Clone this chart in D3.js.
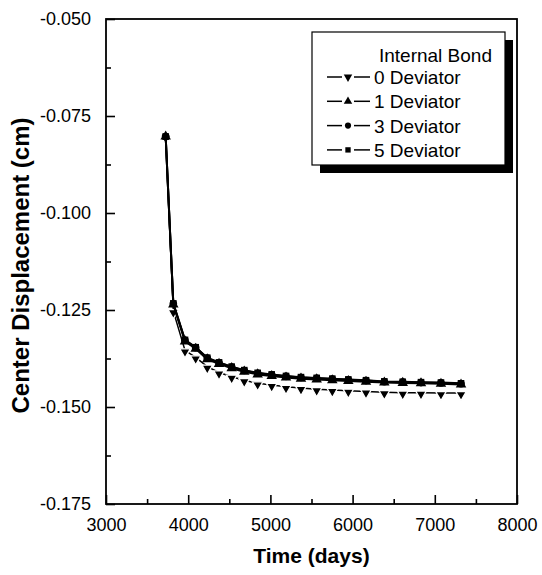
<!DOCTYPE html>
<html>
<head>
<meta charset="utf-8">
<script src="https://cdn.jsdelivr.net/npm/d3@7"></script>
<style>
  body { margin: 0; background: #fff; }
  svg { display: block; font-family: "Liberation Sans", Arial, sans-serif; }
</style>
</head>
<body>
<svg id="chart" width="542" height="575"></svg>
<script>
// time in days, shared by all series
const times = [3726, 3819, 3961, 4091, 4232, 4375, 4529, 4682, 4845, 5016, 5190,
               5372, 5563, 5753, 5948, 6163, 6386, 6610, 6832, 7075, 7319];

const dev0 = [-0.0803, -0.1253, -0.1354, -0.1372, -0.1396, -0.1411, -0.1422, -0.1431, -0.1439, -0.1443, -0.1448,
              -0.1451, -0.1454, -0.1456, -0.1458, -0.1460, -0.1462, -0.1463, -0.1463, -0.1464, -0.1464];
const dev1 = [-0.0803, -0.1236, -0.1331, -0.1350, -0.1377, -0.1389, -0.1400, -0.1409, -0.1416, -0.1420, -0.1424,
              -0.1427, -0.1429, -0.1431, -0.1433, -0.1435, -0.1437, -0.1438, -0.1439, -0.1440, -0.1442];
const dev3 = [-0.0803, -0.1234, -0.1328, -0.1347, -0.1374, -0.1386, -0.1397, -0.1406, -0.1413, -0.1417, -0.1421,
              -0.1424, -0.1426, -0.1428, -0.1430, -0.1432, -0.1435, -0.1436, -0.1437, -0.1438, -0.1440];
const dev5 = [-0.0803, -0.1233, -0.1327, -0.1346, -0.1373, -0.1385, -0.1396, -0.1405, -0.1412, -0.1416, -0.1420,
              -0.1423, -0.1425, -0.1427, -0.1429, -0.1431, -0.1434, -0.1435, -0.1436, -0.1437, -0.1439];

const seriesNames = ["0 Deviator", "1 Deviator", "3 Deviator", "5 Deviator"];
const seriesValues = [dev0, dev1, dev3, dev5];

const xTicks = [3000, 4000, 5000, 6000, 7000, 8000];
const yTicks = [-0.050, -0.075, -0.100, -0.125, -0.150, -0.175];

const legendTitle = "Internal Bond";
const xTitle = "Time (days)";
const yTitle = "Center Displacement (cm)";

const svg = d3.select("#chart");
const m = {left: 106, right: 517, top: 19, bottom: 504};

const x = d3.scaleLinear().domain([3000, 8000]).range([m.left, m.right]);
const y = d3.scaleLinear().domain([-0.175, -0.050]).range([m.bottom, m.top]);

// marker shapes per series (gap = white outline that breaks the line near the marker)
const shapes = [
  {type: d3.symbolTriangle, rot: 180, size: 48, gap: 1.3},
  {type: d3.symbolTriangle, rot: 0, size: 48, gap: 0},
  {type: d3.symbolCircle, rot: 0, size: 46, gap: 0},
  {type: d3.symbolSquare, rot: 0, size: 44, gap: 0}
];

// axes, ticks pointing inward
const xMinor = d3.range(3500, 8000, 1000);
const yMinor = d3.range(-0.1625, -0.05, 0.025);

svg.append("g")
  .attr("transform", `translate(0,${m.bottom})`)
  .call(d3.axisBottom(x).tickValues(xTicks).tickSize(-9).tickFormat(d3.format("d")).tickPadding(14))
  .call(g => g.select(".domain").remove())
  .call(g => g.selectAll("line").attr("stroke-width", 1.6))
  .call(g => g.selectAll("text").attr("font-size", 18).attr("fill", "#000"));

svg.append("g")
  .attr("transform", `translate(0,${m.bottom})`)
  .call(d3.axisBottom(x).tickValues(xMinor).tickSize(-5).tickFormat(""))
  .call(g => g.select(".domain").remove())
  .call(g => g.selectAll("line").attr("stroke-width", 1.6));

svg.append("g")
  .attr("transform", `translate(${m.left},0)`)
  .call(d3.axisLeft(y).tickValues(yTicks).tickSize(-9).tickFormat(d => d.toFixed(3)).tickPadding(15))
  .call(g => g.select(".domain").remove())
  .call(g => g.selectAll("line").attr("stroke-width", 1.6))
  .call(g => g.selectAll("text").attr("font-size", 18).attr("fill", "#000"));

svg.append("g")
  .attr("transform", `translate(${m.left},0)`)
  .call(d3.axisLeft(y).tickValues(yMinor).tickSize(-5).tickFormat(""))
  .call(g => g.select(".domain").remove())
  .call(g => g.selectAll("line").attr("stroke-width", 1.6));

// frame
svg.append("rect")
  .attr("x", m.left).attr("y", m.top)
  .attr("width", m.right - m.left).attr("height", m.bottom - m.top)
  .attr("fill", "none").attr("stroke", "#000").attr("stroke-width", 1.8);

// series
const line = d3.line().x((d, i) => x(times[i])).y(d => y(d));

seriesValues.forEach((vals, k) => {
  svg.append("path")
    .datum(vals)
    .attr("d", line)
    .attr("fill", "none")
    .attr("stroke", "#000")
    .attr("stroke-width", k == 0 ? 1.5 : 2);

  const sh = shapes[k];
  svg.append("g").selectAll("path")
    .data(vals)
    .join("path")
    .attr("transform", (d, i) => `translate(${x(times[i])},${y(d) + (sh.rot ? 1.5 : 0)}) rotate(${sh.rot})`)
    .attr("d", d3.symbol().type(sh.type).size(sh.size))
    .attr("fill", "#000")
    .attr("stroke", sh.gap ? "#fff" : "none")
    .attr("stroke-width", sh.gap);
});

// legend with drop shadow
const lg = {x: 312, y: 32, w: 193, h: 133};
svg.append("rect")
  .attr("x", lg.x + 8).attr("y", lg.y + 8).attr("width", lg.w).attr("height", lg.h)
  .attr("fill", "#000");
svg.append("rect")
  .attr("x", lg.x).attr("y", lg.y).attr("width", lg.w).attr("height", lg.h)
  .attr("fill", "#fff").attr("stroke", "#000").attr("stroke-width", 1.2);

svg.append("text")
  .attr("x", lg.x + lg.w - 13).attr("y", lg.y + 30)
  .attr("text-anchor", "end")
  .attr("font-size", 19)
  .text(legendTitle);

seriesNames.forEach((name, k) => {
  const cy = lg.y + 45 + k * 24.3;
  const g = svg.append("g");
  const mx = lg.x + 36;
  [[lg.x + 15, mx - 6], [mx + 6, lg.x + 58]].forEach(([a, b]) => {
    g.append("line")
      .attr("x1", a).attr("x2", b)
      .attr("y1", cy).attr("y2", cy)
      .attr("stroke", "#000").attr("stroke-width", 1.5);
  });
  const sh = shapes[k];
  g.append("path")
    .attr("transform", `translate(${mx},${cy}) rotate(${sh.rot})`)
    .attr("d", d3.symbol().type(sh.type).size(sh.size * 0.65))
    .attr("fill", "#000");
  g.append("text")
    .attr("x", lg.x + 62).attr("y", cy + 7)
    .attr("font-size", 19)
    .text(name);
});

// axis titles
svg.append("text")
  .attr("x", (m.left + m.right) / 2).attr("y", 563)
  .attr("text-anchor", "middle")
  .attr("font-size", 21).attr("font-weight", "bold")
  .text(xTitle);

svg.append("text")
  .attr("transform", `translate(29,${(m.top + m.bottom) / 2 + 4}) rotate(-90)`)
  .attr("text-anchor", "middle")
  .attr("font-size", 24).attr("font-weight", "bold")
  .text(yTitle);
</script>
</body>
</html>
